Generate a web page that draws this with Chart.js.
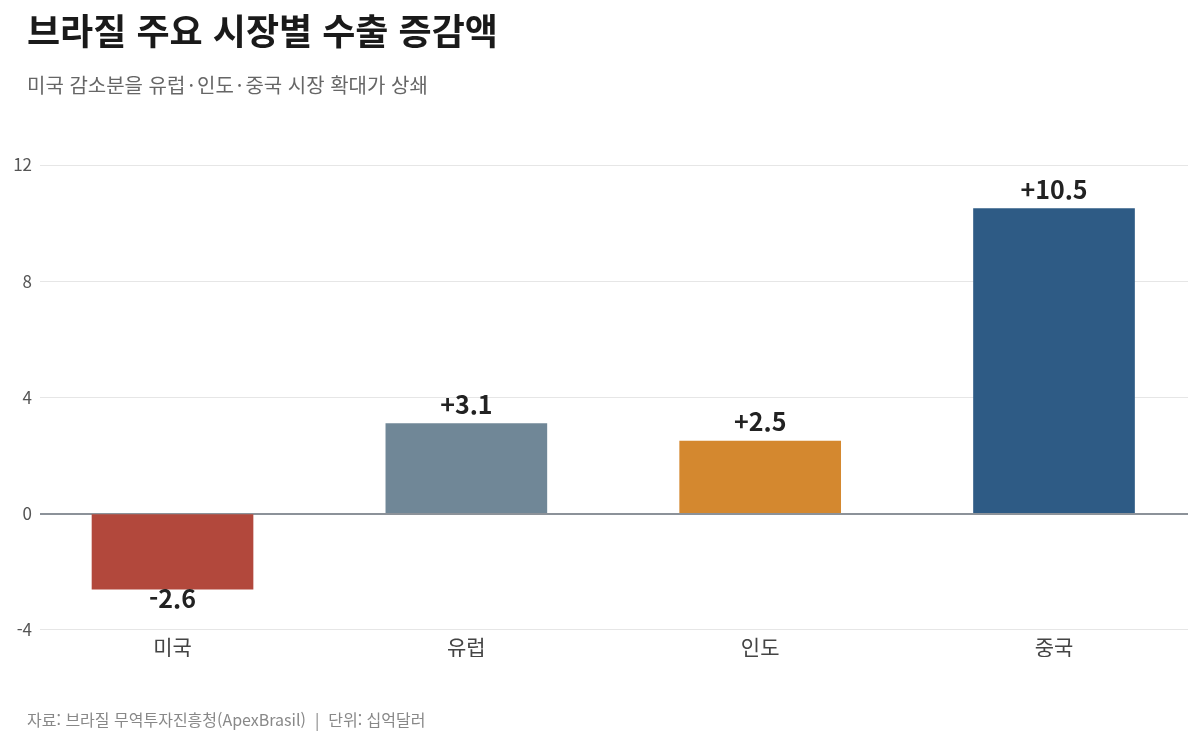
<!DOCTYPE html>
<html lang="ko">
<head>
<meta charset="utf-8">
<script src="https://cdn.jsdelivr.net/npm/chart.js@4"></script>
<style>
  body { margin: 0; background: #fff; font-family: "Noto Sans CJK KR", sans-serif; }
  #wrap { position: relative; width: 1200px; height: 745px; overflow: hidden; }
  #chart { position: absolute; left: 0; top: 0; }
  .title { position: absolute; left: 27px; top: 11px; margin: 0; font-size: 36px; line-height: 36px; font-weight: 700; color: #1a1a1a; }
  .subtitle { position: absolute; left: 27px; top: 74px; font-size: 20px; line-height: 22px; color: #666; }
  .subtitle .dot { padding: 0 3px; }
  .source { position: absolute; left: 27px; top: 710px; font-size: 16px; line-height: 18px; color: #888; }
</style>
</head>
<body>
<div id="wrap">
  <canvas id="chart" width="1200" height="745"></canvas>
  <h1 class="title">브라질 주요 시장별 수출 증감액</h1>
  <div class="subtitle">미국 감소분을 유럽<span class="dot">·</span>인도<span class="dot">·</span>중국 시장 확대가 상쇄</div>
  <div class="source">자료: 브라질 무역투자진흥청(ApexBrasil) &nbsp;|&nbsp; 단위: 십억달러</div>
</div>
<script>
// 시장별 수출 증감액 (십억달러)
const markets = ['미국', '유럽', '인도', '중국'];
const changes = [-2.6, 3.1, 2.5, 10.5];
const barColors = ['#b2483c', '#708797', '#d4882f', '#2e5b85'];
const yTicks = [-4, 0, 4, 8, 12];

const FONT = '"Noto Sans CJK KR", sans-serif';

// 막대 위/아래 값 표시
const valueLabels = {
    id: 'valueLabels',
    afterDatasetsDraw(chart) {
        const ctx = chart.ctx;
        const meta = chart.getDatasetMeta(0);
        ctx.save();
        ctx.font = 'bold 25px ' + FONT;
        ctx.fillStyle = '#222';
        ctx.textAlign = 'center';
        ctx.textBaseline = 'alphabetic';
        meta.data.forEach((bar, i) => {
            const v = changes[i];
            const txt = (v > 0 ? '+' : '') + v.toFixed(1);
            const y = v >= 0 ? bar.y - 10 : bar.y + 19;
            ctx.fillText(txt, bar.x, y);
        });
        ctx.restore();
    }
};

const ctx = document.getElementById('chart').getContext('2d');

new Chart(ctx, {
    type: 'bar',
    data: {
        datasets: [{
            data: changes.map((v, i) => ({ x: i, y: v })),
            backgroundColor: barColors,
            borderWidth: 0,
            barThickness: 161
        }]
    },
    options: {
        responsive: false,
        animation: false,
        layout: { padding: { top: 165, right: 12, bottom: 88, left: 0 } },
        plugins: {
            legend: { display: false },
            tooltip: { enabled: false }
        },
        scales: {
            x: {
                type: 'linear',
                offset: false,
                min: -0.451,
                max: 3.456,
                grid: { display: false },
                border: { display: false },
                afterBuildTicks: s => { s.ticks = markets.map((m, i) => ({ value: i })); },
                ticks: {
                    autoSkip: false,
                    maxRotation: 0,
                    padding: -3,
                    color: '#444',
                    font: { family: FONT, size: 21 },
                    callback: v => markets[v]
                }
            },
            y: {
                min: yTicks[0],
                max: yTicks[yTicks.length - 1],
                afterBuildTicks: s => { s.ticks = yTicks.map(v => ({ value: v })); },
                afterFit: s => { s.width = 40; },
                border: { display: false },
                grid: {
                    drawTicks: false,
                    color: c => c.tick && c.tick.value === 0 ? '#8c9299' : '#e6e6e6',
                    lineWidth: c => c.tick && c.tick.value === 0 ? 2 : 1
                },
                ticks: {
                    padding: 8,
                    color: '#555',
                    font: { family: FONT, size: 17 }
                }
            }
        }
    },
    plugins: [valueLabels]
});
</script>
</body>
</html>
